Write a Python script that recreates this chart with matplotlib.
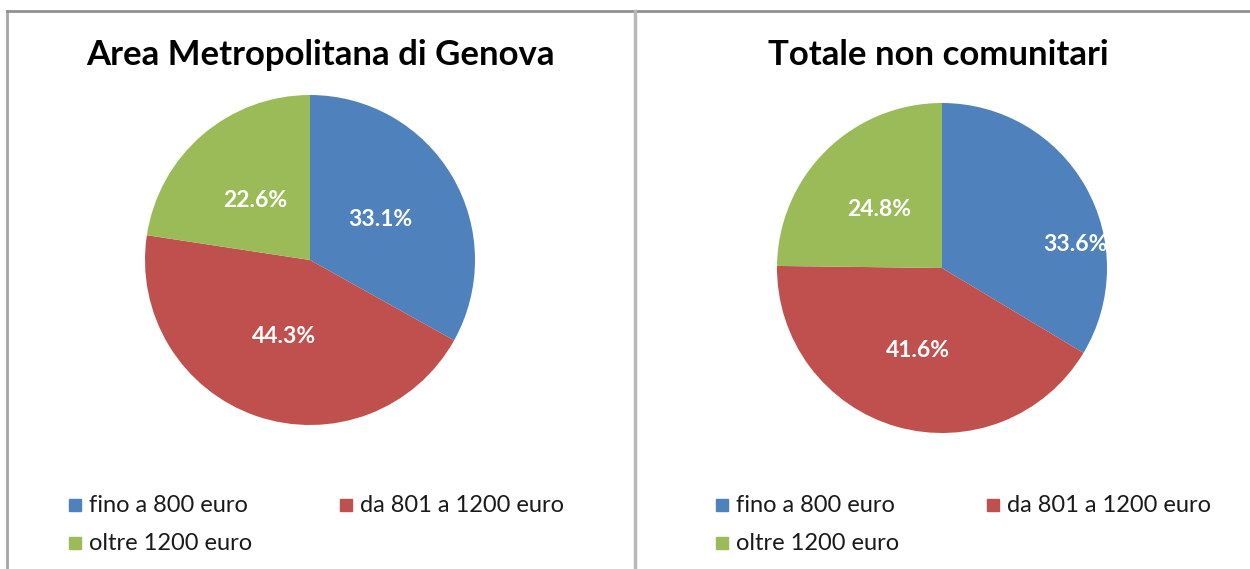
import matplotlib
matplotlib.use("Agg")
import matplotlib.pyplot as plt
import numpy as np
from matplotlib.lines import Line2D

# data
categories = ["fino a 800 euro", "da 801 a 1200 euro", "oltre 1200 euro"]
genova_values = [33.1, 44.3, 22.6]
noncom_values = [33.6, 41.6, 24.8]
titles = ["Area Metropolitana di Genova", "Totale non comunitari"]

colors = ["#4F81BD", "#C0504D", "#9BBB59"]
# label placement (fraction of radius, angle in degrees) as Excel put them
label_pos = [
    [(0.49, 30.0), (0.49, -109.0), (0.49, 132.5)],
    [(0.82, 10.0), (0.52, -106.0), (0.52, 137.0)],
]

W, H = 1250, 569
plt.rcParams['font.family'] = ['Lato', 'DejaVu Sans']
fig = plt.figure(figsize=(W / 100, H / 100), dpi=100, facecolor="white")


def px_axes(cx, cy, r):
    return fig.add_axes([(cx - r) / W, (H - cy - r) / H, 2 * r / W, 2 * r / H])


pies = [(310, 260, genova_values, 320), (942, 268, noncom_values, 938)]
for i, (cx, cy, vals, tx) in enumerate(pies):
    ax = px_axes(cx, cy, 165)
    wedges, texts, autotexts = ax.pie(vals, colors=colors, startangle=90, counterclock=False,
                                      autopct=lambda p: "%.1f%%" % p, pctdistance=0.5,
                                      wedgeprops=dict(linewidth=0),
                                      textprops=dict(color="white", fontsize=16.5, fontweight="bold"))
    for t, (rr, ang) in zip(autotexts, label_pos[i]):
        t.set_position((rr * np.cos(np.radians(ang)), rr * np.sin(np.radians(ang))))
        t.set_ha("center")
        t.set_va("center")
    ax.set_xlim(-1, 1)
    ax.set_ylim(-1, 1)
    ax.set_aspect("equal")
    ax.axis("off")

    fig.text(tx / W, 1 - 55 / H, titles[i], ha="center", va="center",
             fontsize=25, fontweight="bold", color="black")

    # legend
    lx = [75, 346] if i == 0 else [722, 993]
    ly = [505, 543]
    spots = [(lx[0], ly[0]), (lx[1], ly[0]), (lx[0], ly[1])]
    for (sx, sy), cat, col in zip(spots, categories, colors):
        fig.patches.append(plt.Rectangle(((sx - 6) / W, 1 - (sy + 6) / H), 12 / W, 12 / H,
                                         transform=fig.transFigure, color=col, figure=fig))
        fig.text((sx + 14) / W, 1 - sy / H, cat, ha="left", va="center",
                 fontsize=17, color="#1a1a1a")

# panel borders
border = "#A6A6A6"
fig.add_artist(Line2D([7 / W, 7 / W], [0, 1 - 11 / H], transform=fig.transFigure, color=border, lw=2))
fig.add_artist(Line2D([7 / W, 1], [1 - 11 / H, 1 - 11 / H], transform=fig.transFigure, color="#909090", lw=2))
fig.add_artist(Line2D([635 / W, 635 / W], [0, 1 - 11 / H], transform=fig.transFigure, color="#B8B8B8", lw=2.5))

fig.savefig("out.png", dpi=100, facecolor="white")
